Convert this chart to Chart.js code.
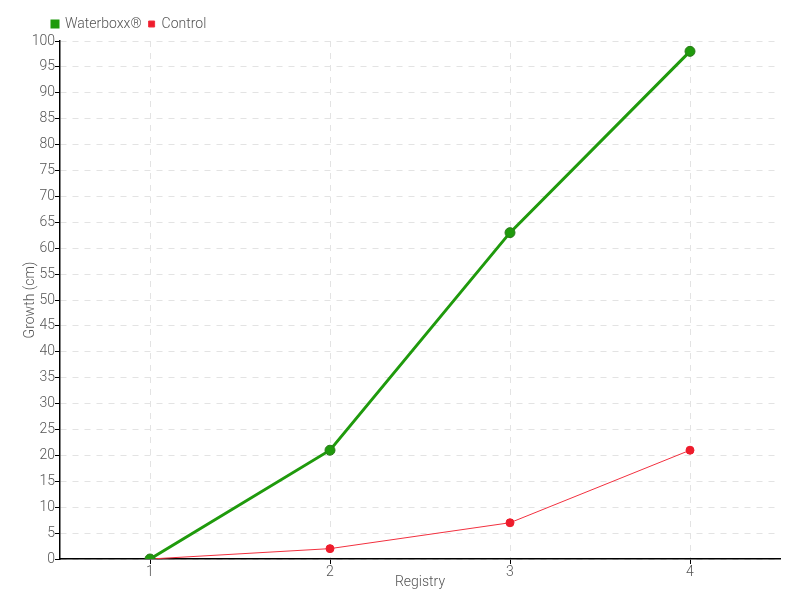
<!DOCTYPE html>
<html>
<head>
<meta charset="utf-8">
<script src="https://cdn.jsdelivr.net/npm/chart.js@4/dist/chart.umd.min.js"></script>
<style>
  html, body { margin: 0; padding: 0; background: #fff; }
  #wrap { width: 800px; height: 600px; }
</style>
</head>
<body>
<div id="wrap"><canvas id="growthChart"></canvas></div>
<script>
const registries = ['1', '2', '3', '4'];
const waterboxx = [0, 21, 63, 98];
const control = [0, 2, 7, 21];

Chart.defaults.color = '#555';
Chart.defaults.font.family = "Roboto, sans-serif";
Chart.defaults.font.weight = '300';
Chart.defaults.font.size = 14;

// nudge the legend to the right so it starts near the y axis
const legendShift = {
    id: 'legendShift',
    afterLayout(chart) {
        chart.legend.left += 23;
        chart.legend.right += 23;
    }
};

const ctx = document.getElementById('growthChart').getContext('2d');
new Chart(ctx, {
    type: 'line',
    data: {
        labels: registries,
        datasets: [
            {
                label: 'Waterboxx®',
                data: waterboxx,
                borderColor: '#1f9a0c',
                backgroundColor: '#1f9a0c',
                borderWidth: 3,
                pointRadius: 5,
                pointBackgroundColor: '#1f9a0c',
                pointBorderColor: '#2a7a1a',
                pointBorderWidth: 1,
                tension: 0
            },
            {
                label: 'Control',
                data: control,
                borderColor: '#f2303f',
                backgroundColor: '#ee1c2c',
                borderWidth: 1,
                pointRadius: 4,
                pointBackgroundColor: '#ee1c2c',
                pointBorderColor: '#ee1c2c',
                tension: 0
            }
        ]
    },
    options: {
        responsive: true,
        maintainAspectRatio: false,
        animation: false,
        layout: { padding: { top: 10, right: 20, left: 22, bottom: 9 } },
        plugins: {
            legend: {
                align: 'start',
                labels: {
                    boxWidth: 6,
                    boxHeight: 6,
                    padding: 7,
                    font: { size: 14 }
                }
            },
            tooltip: { enabled: false }
        },
        scales: {
            x: {
                offset: true,
                grid: {
                    offset: false,
                    color: '#e3e3e3',
                    tickColor: '#000',
                    tickLength: 5
                },
                border: { display: true, color: '#000', width: 1.5, dash: [6, 6] },
                ticks: { padding: 0 },
                title: { display: true, text: 'Registry', padding: 0, font: { size: 14 } },
                afterFit: s => { s.height = 32; }
            },
            y: {
                min: 0,
                max: 100,
                grid: {
                    color: '#e3e3e3',
                    tickColor: '#000',
                    tickLength: 5
                },
                border: { display: true, color: '#000', width: 1.5, dash: [6, 6] },
                ticks: { stepSize: 5, padding: 0 },
                title: { display: true, text: 'Growth (cm)', padding: 0, font: { size: 14 } },
                afterFit: s => { s.width = 38; }
            }
        }
    },
    plugins: [legendShift]
});
</script>
</body>
</html>
